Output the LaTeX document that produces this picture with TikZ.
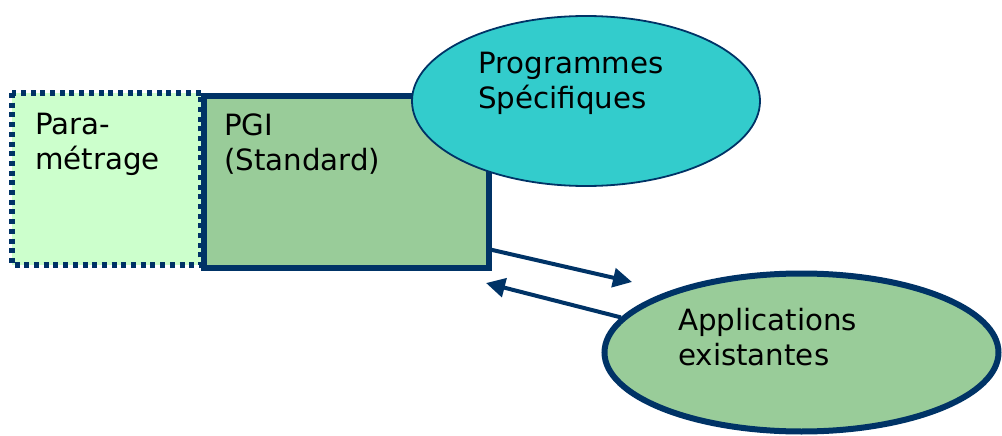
\documentclass[tikz,border=0pt]{standalone}
\usepackage{fontspec}
\setmainfont{DejaVu Sans}
\usetikzlibrary{shapes.geometric,arrows.meta}
\definecolor{navy}{HTML}{003366}
\definecolor{palegreen}{HTML}{CCFFCC}
\definecolor{sagegreen}{HTML}{99CC99}
\definecolor{teal}{HTML}{33CCCC}
\tikzset{
  % base anchor of a two-line label sits on its second line
  label text/.style={anchor=base west, inner sep=0pt, align=left,
    font=\fontsize{29.3}{35}\selectfont, text=black},
  dotbox/.style={draw=navy, fill=palegreen, line width=5.5pt,
    dash pattern=on 5pt off 4.7pt},
  solidbox/.style={draw=navy, fill=sagegreen, line width=6pt},
  bubble/.style={ellipse, draw=navy, inner sep=0pt},
  link/.style={draw=navy, line width=4pt,
    -{Triangle[length=19pt,width=19pt]}}
}
\begin{document}
\begin{tikzpicture}[x=1pt,y=-1pt]
\useasboundingbox (0,0) rectangle (1002,436);
% parametrage area (dotted) and the standard package box
\draw[dotbox] (12,93) rectangle (201,265);
\node[solidbox, rectangle, minimum width=285pt, minimum height=172pt,
  inner sep=0pt, anchor=north west] (pgi) at (201,93) {};
\node[label text] (paratext) at (35,169) {Para-\\métrage};
\node[label text] (pgitext) at (224,170) {PGI\\(Standard)};
% specific programmes
\node[bubble, fill=teal, line width=1.8pt, minimum width=348pt,
  minimum height=170pt] (prog) at (586,101) {};
\node[label text] (progtext) at (478,108) {Programmes\\Spécifiques};
% exchanges with existing applications
\coordinate (out) at (488,249);
\coordinate (outtip) at (632,282);
\coordinate (intip) at (486,283);
\node[bubble, fill=sagegreen, line width=6pt, minimum width=394pt,
  minimum height=158pt] (apps) at (801.5,352.5) {};
\draw[link] (out) -- (outtip);
\draw[link] (apps.169) -- (intip);
\node[label text] (appstext) at (678,365) {Applications\\existantes};
\end{tikzpicture}
\end{document}
